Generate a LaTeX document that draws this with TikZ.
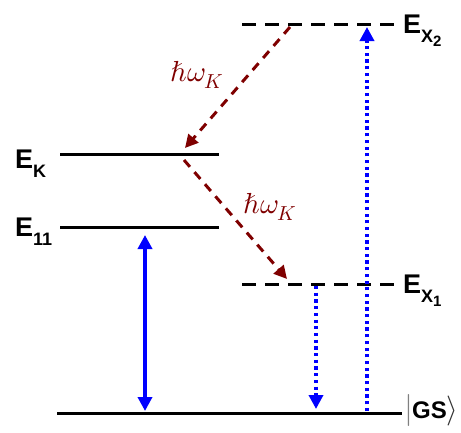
\documentclass[tikz,border=0pt]{standalone}
\usepackage{fontspec}
\setmainfont{Liberation Sans}
\usepackage{unicode-math}
\setmathfont{Latin Modern Math}
\usetikzlibrary{arrows.meta}
\definecolor{dred}{HTML}{7F0000}
\definecolor{lblue}{HTML}{0000FF}
\newcommand{\elab}[2]{{\fontsize{27}{27}\selectfont\bfseries E}\raisebox{-9pt}{\fontsize{18}{18}\selectfont\bfseries #1\raisebox{-4pt}{\fontsize{15}{15}\selectfont #2}}}
\tikzset{
  level/.style={line width=3pt, black},
  dlevel/.style={line width=3pt, black, dash pattern=on 14pt off 9pt},
  phonon/.style={line width=3pt, dred, dash pattern=on 9pt off 7pt, -{Triangle[width=13pt,length=13pt]}},
  bluesolid/.style={draw=lblue, line width=3.5pt, {Triangle[width=14pt,length=14pt]}-{Triangle[width=14pt,length=14pt]}},
  bluedots/.style={draw=lblue, line width=3.5pt, dash pattern=on 3.2pt off 3.5pt, -{Triangle[width=14pt,length=14pt]}},
  elabel/.style={inner sep=0pt, anchor=base west},
  plabel/.style={inner sep=0pt, text=dred, font=\fontsize{29}{29}\selectfont}
}
\begin{document}
\begin{tikzpicture}[x=1pt,y=-1pt]
\useasboundingbox (0,0) rectangle (461,432);
% levels
\coordinate (x2a) at (242,24); \coordinate (x2b) at (398,24);
\coordinate (ka) at (60,154); \coordinate (kb) at (219,154);
\coordinate (ea) at (60,227); \coordinate (eb) at (219,227);
\coordinate (x1a) at (242,284); \coordinate (x1b) at (398,284);
\coordinate (gsa) at (57,413); \coordinate (gsb) at (402,413);
\draw[dlevel] (x2a) -- (x2b);
\draw[level] (ka) -- (kb);
\draw[level] (ea) -- (eb);
\draw[dlevel] (x1a) -- (x1b);
\draw[level] (gsa) -- (gsb);
% labels
\node[elabel] (lx2) at (403,33) {\elab{X}{2}};
\node[elabel] (lk) at (15,168) {\elab{K}{}};
\node[elabel] (l11) at (15,236) {\elab{11}{}};
\node[elabel] (lx1) at (403,293) {\elab{X}{1}};
\node[elabel] (lgs) at (404,418) {{\color{gray}\fontsize{32}{32}\selectfont$|$}\kern-1pt{\fontsize{24}{24}\selectfont\bfseries GS}{\color{black!80}\fontsize{30}{30}\selectfont$\rangle$}};
% phonon arrows
\coordinate (p1s) at (290,27); \coordinate (p1e) at (185,148);
\coordinate (p2s) at (184,160); \coordinate (p2e) at (287,279);
\draw[phonon] (p1s) -- (p1e);
\draw[phonon] (p2s) -- (p2e);
\node[plabel] (h1) at (197,75) {$\hbar\omega_{\mkern-1mu K}$};
\node[plabel] (h2) at (270,207) {$\hbar\omega_{\mkern-1mu K}$};
% photon arrows
\coordinate (a1t) at (145,235); \coordinate (a1b) at (145,411);
\draw[bluesolid] (a1t) -- (a1b);
\coordinate (d1t) at (316,286); \coordinate (d1b) at (316,409);
\draw[bluedots] (d1t) -- (d1b);
\coordinate (d2b) at (367,411); \coordinate (d2t) at (367,27);
\draw[bluedots] (d2b) -- (d2t);
\end{tikzpicture}
\end{document}
